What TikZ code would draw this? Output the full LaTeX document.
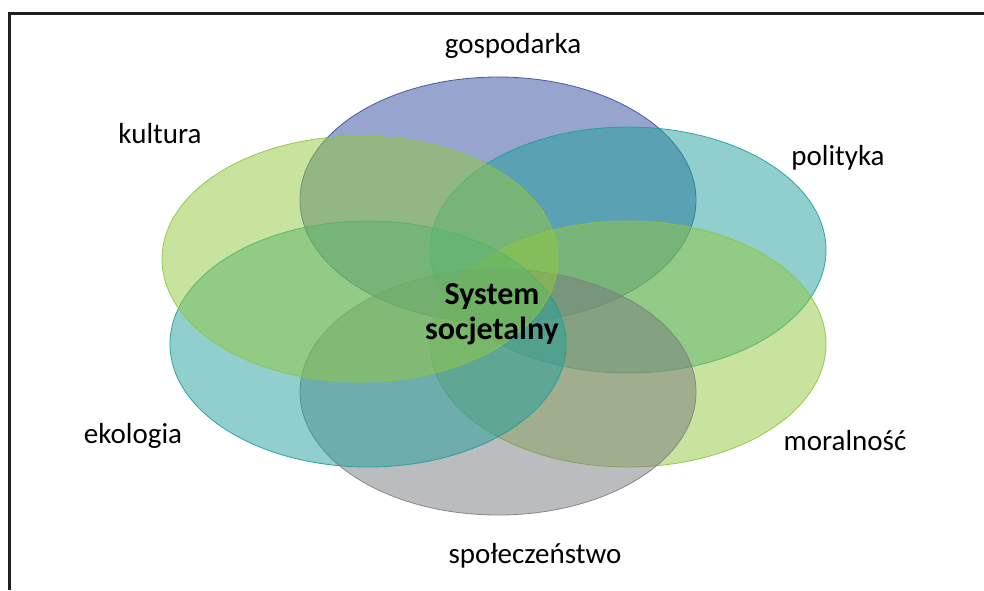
\documentclass[tikz,border=0pt]{standalone}
\usepackage{fontspec}
\setmainfont{Carlito}
\usetikzlibrary{shapes.geometric}

\definecolor{cGosp}{HTML}{2E4A9E}
\definecolor{cGospLine}{HTML}{3C4E9C}
\definecolor{cTeal}{HTML}{22A09C}
\definecolor{cTealLine}{HTML}{1E9E9A}
\definecolor{cLime}{HTML}{92C83E}
\definecolor{cLimeLine}{HTML}{8CC63F}
\definecolor{cGray}{HTML}{797A7F}
\definecolor{cGrayLine}{HTML}{7E7F84}
\definecolor{cFrame}{HTML}{231F20}

\tikzset{
  petal/.style={ellipse, minimum width=396pt, minimum height=246pt, inner sep=0pt,
    fill opacity=0.5, draw opacity=0.9, line width=0.8pt},
  lbl/.style={font=\fontsize{29}{34}\selectfont, text=black, inner sep=0pt},
  core/.style={font=\bfseries\fontsize{32}{35}\selectfont, text=black, align=center, inner sep=0pt}
}

\begin{document}
\begin{tikzpicture}[x=1pt, y=-1pt]
  \useasboundingbox (0,0) rectangle (984,590);
  \fill[white] (0,0) rectangle (984,590);

  % frame (only top and left sides fall inside the page)
  \draw[cFrame, line width=3pt] (9.5,590) -- (9.5,13.5) -- (984,13.5);

  % overlapping ellipses
  \node[petal, fill=cGosp, draw=cGospLine]  (gosp)  at (498,200) {};
  \node[petal, fill=cTeal, draw=cTealLine]  (pol)   at (628,250) {};
  \node[petal, fill=cLime, draw=cLimeLine]  (mor)   at (628,344) {};
  \node[petal, fill=cGray, draw=cGrayLine]  (spol)  at (498,392) {};
  \node[petal, fill=cTeal, draw=cTealLine]  (eko)   at (368,344) {};
  \node[petal, fill=cLime, draw=cLimeLine]  (kult)  at (360,259) {};

  % labels
  \node[lbl] (tGosp) at (513,46)  {gospodarka};
  \node[lbl] (tKult) at (160,134) {kultura};
  \node[lbl] (tPol)  at (838,158) {polityka};
  \node[lbl] (tMor)  at (845,441) {moralność};
  \node[lbl] (tEko)  at (133,436) {ekologia};
  \node[lbl] (tSpol) at (535,556) {społeczeństwo};

  \node[core] (centre) at (492,314) {System\\socjetalny};
\end{tikzpicture}
\end{document}
